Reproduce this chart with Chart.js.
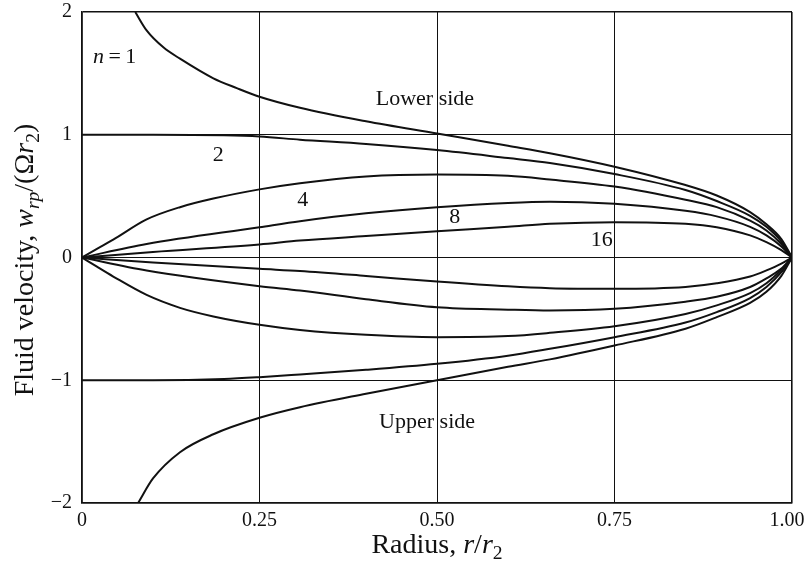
<!DOCTYPE html>
<html>
<head>
<meta charset="utf-8">
<script src="https://cdn.jsdelivr.net/npm/chart.js@4.4.0/dist/chart.umd.min.js"></script>
<style>
  html, body { margin: 0; padding: 0; background: #fff; }
  #wrap { width: 807px; height: 569px; }
</style>
</head>
<body>
<div id="wrap"><canvas id="chart" width="807" height="569"></canvas></div>
<script>
// values: radius r/r2 and velocity w/(Omega r2)
// upper half = "Lower side", lower half = "Upper side"
const xTicks = [0, 0.25, 0.5, 0.75, 1.0];
const yTicks = [-2, -1, 0, 1, 2];

const rN1Low = [0.075, 0.091, 0.115, 0.138, 0.185, 0.218, 0.25, 0.307, 0.4, 0.5, 0.6, 0.659, 0.75, 0.85, 0.894, 0.941, 0.964, 0.985, 1.0];
const vN1Low = [2.0, 1.85, 1.71, 1.62, 1.46, 1.38, 1.31, 1.22, 1.11, 1.01, 0.91, 0.85, 0.74, 0.59, 0.505, 0.37, 0.27, 0.15, 0];

const rN2Low = [0, 0.1, 0.2, 0.25, 0.307, 0.4, 0.5, 0.6, 0.659, 0.75, 0.85, 0.894, 0.941, 0.964, 0.985, 1.0];
const vN2Low = [1.0, 1.0, 0.995, 0.985, 0.96, 0.925, 0.875, 0.81, 0.77, 0.68, 0.55, 0.46, 0.34, 0.25, 0.13, 0];

const rN4Low = [0, 0.021, 0.044, 0.091, 0.138, 0.185, 0.25, 0.307, 0.4, 0.5, 0.6, 0.659, 0.75, 0.85, 0.894, 0.941, 0.964, 0.985, 1.0];
const vN4Low = [0, 0.07, 0.145, 0.31, 0.41, 0.48, 0.555, 0.605, 0.66, 0.676, 0.665, 0.635, 0.578, 0.47, 0.41, 0.30, 0.22, 0.11, 0];

const rN8Low = [0, 0.091, 0.25, 0.307, 0.4, 0.5, 0.6, 0.659, 0.75, 0.85, 0.894, 0.941, 0.964, 0.985, 1.0];
const vN8Low = [0, 0.11, 0.247, 0.296, 0.36, 0.41, 0.445, 0.455, 0.437, 0.38, 0.335, 0.25, 0.18, 0.09, 0];

const rN16Low = [0, 0.1, 0.25, 0.307, 0.4, 0.5, 0.6, 0.659, 0.75, 0.85, 0.894, 0.941, 0.964, 0.985, 1.0];
const vN16Low = [0, 0.045, 0.106, 0.138, 0.175, 0.214, 0.25, 0.274, 0.288, 0.275, 0.247, 0.18, 0.125, 0.06, 0];

const rN1Up = [0.079, 0.1, 0.138, 0.185, 0.25, 0.307, 0.4, 0.5, 0.6, 0.659, 0.75, 0.85, 0.894, 0.941, 0.964, 0.985, 1.0];
const vN1Up = [-2.0, -1.80, -1.586, -1.44, -1.306, -1.22, -1.11, -1.0, -0.89, -0.83, -0.717, -0.58, -0.486, -0.37, -0.28, -0.15, 0];

const rN2Up = [0, 0.1, 0.2, 0.25, 0.307, 0.4, 0.5, 0.6, 0.659, 0.75, 0.85, 0.894, 0.941, 0.964, 0.985, 1.0];
const vN2Up = [-1.0, -1.0, -0.99, -0.975, -0.953, -0.915, -0.866, -0.80, -0.744, -0.649, -0.53, -0.445, -0.33, -0.24, -0.12, 0];

const rN4Up = [0, 0.021, 0.044, 0.091, 0.138, 0.185, 0.25, 0.307, 0.4, 0.5, 0.6, 0.659, 0.75, 0.85, 0.894, 0.941, 0.964, 0.985, 1.0];
const vN4Up = [0, -0.075, -0.155, -0.305, -0.41, -0.48, -0.548, -0.59, -0.63, -0.649, -0.64, -0.614, -0.56, -0.46, -0.39, -0.29, -0.21, -0.1, 0];

const rN8Up = [0, 0.091, 0.25, 0.307, 0.4, 0.5, 0.6, 0.659, 0.75, 0.85, 0.894, 0.941, 0.964, 0.985, 1.0];
const vN8Up = [0, -0.106, -0.234, -0.269, -0.34, -0.405, -0.425, -0.432, -0.418, -0.36, -0.32, -0.24, -0.17, -0.09, 0];

const rN16Up = [0, 0.1, 0.25, 0.307, 0.4, 0.5, 0.6, 0.659, 0.75, 0.85, 0.894, 0.941, 0.964, 0.985, 1.0];
const vN16Up = [0, -0.04, -0.092, -0.11, -0.15, -0.196, -0.235, -0.25, -0.255, -0.24, -0.21, -0.155, -0.105, -0.05, 0];

// curve labels (text and where they sit, in data units)
const labelTexts = [[['n', true], ['\u2009=\u20091', false]], [['2', false]], [['4', false]], [['8', false]], [['16', false]], [['Lower side', false]], [['Upper side', false]]];
const labelR = [0.046, 0.192, 0.311, 0.525, 0.732, 0.483, 0.486];
const labelV = [1.63, 0.83, 0.47, 0.33, 0.14, 1.29, -1.34];

const FONT = '"Liberation Serif", "Times New Roman", serif';

function pts(r, v) {
  return r.map((x, i) => ({ x: x, y: v[i] }));
}

function curve(r, v) {
  return {
    data: pts(r, v),
    borderColor: '#111',
    borderWidth: 2,
    pointRadius: 0,
    fill: false,
    cubicInterpolationMode: 'monotone'
  };
}

// draws a run of text pieces: [text, italic, sub]
function drawRich(ctx, parts, x, y, size, align) {
  let total = 0;
  parts.forEach((p) => {
    const s = p[2] ? size * 0.7 : size;
    ctx.font = (p[1] ? 'italic ' : '') + s + 'px ' + FONT;
    total += ctx.measureText(p[0]).width;
  });
  let cx = align === 'center' ? x - total / 2 : x;
  parts.forEach((p) => {
    const s = p[2] ? size * 0.7 : size;
    ctx.font = (p[1] ? 'italic ' : '') + s + 'px ' + FONT;
    ctx.textAlign = 'left';
    ctx.fillText(p[0], cx, p[2] ? y + size * 0.22 : y);
    cx += ctx.measureText(p[0]).width;
  });
}

const textPlugin = {
  id: 'textPlugin',
  afterDraw(chart) {
    const ctx = chart.ctx;
    const xs = chart.scales.x;
    const ys = chart.scales.y;
    ctx.save();
    ctx.fillStyle = '#111';

    ctx.textBaseline = 'middle';
    labelTexts.forEach((t, i) => {
      drawRich(ctx, t, xs.getPixelForValue(labelR[i]), ys.getPixelForValue(labelV[i]), 22, 'center');
    });

    ctx.textBaseline = 'alphabetic';
    drawRich(ctx, [['Radius, ', false], ['r', true], ['/', false], ['r', true], ['2', false, true]],
      (xs.left + xs.right) / 2, 553, 28, 'center');

    ctx.translate(33, 260);
    ctx.rotate(-Math.PI / 2);
    drawRich(ctx, [['Fluid velocity, ', false], ['w', true], ['rp', true, true], ['/(', false], ['\u03A9', false], ['r', true], ['2', false, true], [')', false]],
      0, 0, 28, 'center');
    ctx.restore();
  }
};

function edgeWidth(ctx) {
  const t = ctx.tick;
  if (!t) return 1;
  return (t.value === ctx.scale.min || t.value === ctx.scale.max) ? 1.6 : 1;
}

const ctx = document.getElementById('chart').getContext('2d');
new Chart(ctx, {
  type: 'line',
  data: {
    datasets: [
      curve(rN1Low, vN1Low), curve(rN2Low, vN2Low), curve(rN4Low, vN4Low), curve(rN8Low, vN8Low), curve(rN16Low, vN16Low),
      curve(rN1Up, vN1Up), curve(rN2Up, vN2Up), curve(rN4Up, vN4Up), curve(rN8Up, vN8Up), curve(rN16Up, vN16Up)
    ]
  },
  options: {
    responsive: false,
    animation: false,
    layout: { padding: { top: 12, right: 15, left: 0, bottom: 0 } },
    plugins: { legend: { display: false }, tooltip: { enabled: false } },
    scales: {
      x: {
        type: 'linear',
        min: 0,
        max: 1,
        afterBuildTicks: (s) => { s.ticks = xTicks.map((v) => ({ value: v })); },
        afterFit: (s) => { s.height = 66; s.paddingLeft = 0; s.paddingRight = 0; },
        ticks: {
          color: '#111',
          padding: 6,
          font: { family: FONT, size: 20 },
          maxRotation: 0,
          // figure space after the last label keeps it inside the window
          callback: (v) => (v === 0 ? '0' : v === 1 ? '1.00\u2007' : v.toFixed(2))
        },
        grid: { color: '#111', lineWidth: edgeWidth, drawTicks: false },
        border: { color: '#111', width: 1.6 }
      },
      y: {
        type: 'linear',
        min: -2,
        max: 2,
        afterBuildTicks: (s) => { s.ticks = yTicks.map((v) => ({ value: v })); },
        afterFit: (s) => { s.width = 82; s.paddingTop = 0; s.paddingBottom = 0; },
        ticks: {
          color: '#111',
          padding: 10,
          font: { family: FONT, size: 20 },
          callback: (v) => (v < 0 ? '\u2212' + Math.abs(v) : String(v))
        },
        grid: { color: '#111', lineWidth: edgeWidth, drawTicks: false },
        border: { color: '#111', width: 1.6 }
      }
    }
  },
  plugins: [textPlugin]
});
</script>
</body>
</html>
